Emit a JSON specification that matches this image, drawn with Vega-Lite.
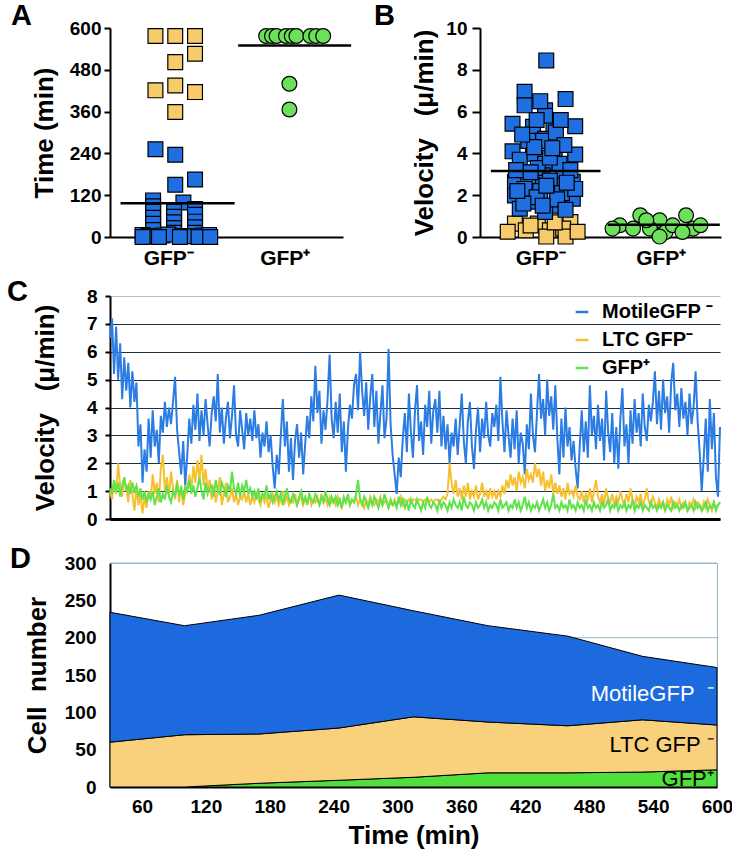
{
"$schema":"https://vega.github.io/schema/vega-lite/v6.json",
"background":"white",
"padding":{"left":7,"top":2,"right":0,"bottom":0},
"config":{
 "view":{"stroke":null},
 "font":"Liberation Sans",
 "axis":{"labelFont":"Liberation Sans","labelFontWeight":"bold","labelFontSize":19,"labelColor":"black","titleFont":"Liberation Sans","titleFontWeight":"bold","titleFontSize":26,"titleColor":"black","domainColor":"black","domainWidth":2,"tickColor":"black","tickWidth":2,"tickSize":6,"grid":false,"labelFlush":false,"labelOverlap":false},
 "title":{"font":"Liberation Sans","fontSize":29,"fontWeight":"bold","anchor":"start","frame":"group","offset":0,"baseline":"alphabetic","color":"black"}
},
"datasets":{
 "aPts":[
  {"cls":"ltc","jx":0.39,"time":577},{"cls":"ltc","jx":0.56,"time":577},{"cls":"ltc","jx":0.73,"time":577},{"cls":"ltc","jx":0.73,"time":526},{"cls":"ltc","jx":0.56,"time":502},{"cls":"ltc","jx":0.39,"time":421},{"cls":"ltc","jx":0.56,"time":435},{"cls":"ltc","jx":0.73,"time":416},{"cls":"ltc","jx":0.56,"time":359},
  {"cls":"mot","jx":0.39,"time":252},{"cls":"mot","jx":0.56,"time":236},{"cls":"mot","jx":0.56,"time":150},{"cls":"mot","jx":0.73,"time":165},{"cls":"mot","jx":0.37,"time":105},{"cls":"mot","jx":0.63,"time":99},{"cls":"mot","jx":0.37,"time":88},{"cls":"mot","jx":0.37,"time":72},{"cls":"mot","jx":0.37,"time":55},{"cls":"mot","jx":0.37,"time":38},{"cls":"mot","jx":0.37,"time":20},{"cls":"mot","jx":0.55,"time":72},{"cls":"mot","jx":0.55,"time":58},{"cls":"mot","jx":0.55,"time":42},{"cls":"mot","jx":0.55,"time":26},{"cls":"mot","jx":0.55,"time":12},{"cls":"mot","jx":0.73,"time":80},{"cls":"mot","jx":0.73,"time":64},{"cls":"mot","jx":0.73,"time":44},{"cls":"mot","jx":0.73,"time":28},{"cls":"mot","jx":0.73,"time":12},{"cls":"mot","jx":0.28,"time":6},{"cls":"mot","jx":0.33,"time":3},{"cls":"mot","jx":0.45,"time":4},{"cls":"mot","jx":0.5,"time":7},{"cls":"mot","jx":0.62,"time":3},{"cls":"mot","jx":0.67,"time":2},{"cls":"mot","jx":0.8,"time":4},{"cls":"mot","jx":0.85,"time":6},{"cls":"mot","jx":0.42,"time":0},{"cls":"mot","jx":0.6,"time":0},{"cls":"mot","jx":0.76,"time":0},{"cls":"mot","jx":0.28,"time":0},{"cls":"mot","jx":0.86,"time":0},
  {"cls":"pos","jx":1.34,"time":577},{"cls":"pos","jx":1.39,"time":577},{"cls":"pos","jx":1.43,"time":577},{"cls":"pos","jx":1.51,"time":577},{"cls":"pos","jx":1.56,"time":577},{"cls":"pos","jx":1.6,"time":577},{"cls":"pos","jx":1.72,"time":577},{"cls":"pos","jx":1.77,"time":577},{"cls":"pos","jx":1.83,"time":577},{"cls":"pos","jx":1.54,"time":440},{"cls":"pos","jx":1.54,"time":366}
 ],
 "aMeans":[{"from":0.09,"to":1.07,"v":97},{"from":1.1,"to":2.07,"v":550}],
 "bPts":[
  {"cls":"ltc","jx":0.29,"vel":0.64},{"cls":"ltc","jx":0.48,"vel":0.64},{"cls":"ltc","jx":0.75,"vel":0.72},{"cls":"ltc","jx":0.38,"vel":0.32},{"cls":"ltc","jx":0.58,"vel":0.32},{"cls":"ltc","jx":0.69,"vel":0.4},{"cls":"ltc","jx":0.55,"vel":0.02},{"cls":"ltc","jx":0.71,"vel":0.02},{"cls":"ltc","jx":0.23,"vel":0.25},{"cls":"ltc","jx":0.81,"vel":0.25},{"cls":"ltc","jx":0.62,"vel":0.7},{"cls":"ltc","jx":0.42,"vel":0.55},
  {"cls":"mot","jx":0.55,"vel":8.45},{"cls":"mot","jx":0.37,"vel":6.95},{"cls":"mot","jx":0.37,"vel":6.3},{"cls":"mot","jx":0.71,"vel":6.6},{"cls":"mot","jx":0.54,"vel":6.06},{"cls":"mot","jx":0.27,"vel":5.42},{"cls":"mot","jx":0.44,"vel":5.27},{"cls":"mot","jx":0.61,"vel":5.27},{"cls":"mot","jx":0.79,"vel":5.3},{"cls":"mot","jx":0.54,"vel":5.8},{"cls":"mot","jx":0.54,"vel":4.7},{"cls":"mot","jx":0.52,"vel":4.6},{"cls":"mot","jx":0.27,"vel":4.1},{"cls":"mot","jx":0.44,"vel":3.98},{"cls":"mot","jx":0.62,"vel":3.98},{"cls":"mot","jx":0.79,"vel":3.95},{"cls":"mot","jx":0.54,"vel":3.5},{"cls":"mot","jx":0.36,"vel":3.03},{"cls":"mot","jx":0.52,"vel":2.95},{"cls":"mot","jx":0.69,"vel":2.95},{"cls":"mot","jx":0.29,"vel":2.64},{"cls":"mot","jx":0.77,"vel":2.64},{"cls":"mot","jx":0.44,"vel":2.47},{"cls":"mot","jx":0.61,"vel":2.47},{"cls":"mot","jx":0.29,"vel":1.99},{"cls":"mot","jx":0.44,"vel":1.69},{"cls":"mot","jx":0.61,"vel":1.5},{"cls":"mot","jx":0.77,"vel":1.83},{"cls":"mot","jx":0.54,"vel":1.2},{"cls":"mot","jx":0.33,"vel":1.35},
  {"cls":"mot","jx":0.47,"vel":5.6},{"cls":"mot","jx":0.63,"vel":5.0},{"cls":"mot","jx":0.4,"vel":4.6},{"cls":"mot","jx":0.7,"vel":4.4},{"cls":"mot","jx":0.33,"vel":3.7},{"cls":"mot","jx":0.48,"vel":3.3},{"cls":"mot","jx":0.66,"vel":3.5},{"cls":"mot","jx":0.75,"vel":3.2},{"cls":"mot","jx":0.4,"vel":2.8},{"cls":"mot","jx":0.58,"vel":2.7},{"cls":"mot","jx":0.3,"vel":3.2},{"cls":"mot","jx":0.5,"vel":2.2},{"cls":"mot","jx":0.68,"vel":2.1},{"cls":"mot","jx":0.37,"vel":2.3},{"cls":"mot","jx":0.79,"vel":2.3},{"cls":"mot","jx":0.47,"vel":1.9},{"cls":"mot","jx":0.64,"vel":1.8},{"cls":"mot","jx":0.36,"vel":1.6},{"cls":"mot","jx":0.52,"vel":1.5},{"cls":"mot","jx":0.71,"vel":1.3},{"cls":"mot","jx":0.58,"vel":3.8},{"cls":"mot","jx":0.45,"vel":4.3},{"cls":"mot","jx":0.35,"vel":4.9},{"cls":"mot","jx":0.67,"vel":5.6},{"cls":"mot","jx":0.5,"vel":6.5},{"cls":"mot","jx":0.6,"vel":4.25},{"cls":"mot","jx":0.42,"vel":3.1},{"cls":"mot","jx":0.72,"vel":2.6},{"cls":"mot","jx":0.55,"vel":2.45},{"cls":"mot","jx":0.31,"vel":2.2},
  {"cls":"pos","jx":1.33,"vel":1.04},{"cls":"pos","jx":1.49,"vel":0.8},{"cls":"pos","jx":1.71,"vel":1.04},{"cls":"pos","jx":1.16,"vel":0.56},{"cls":"pos","jx":1.27,"vel":0.4},{"cls":"pos","jx":1.41,"vel":0.4},{"cls":"pos","jx":1.54,"vel":0.24},{"cls":"pos","jx":1.6,"vel":0.56},{"cls":"pos","jx":1.77,"vel":0.4},{"cls":"pos","jx":1.83,"vel":0.56},{"cls":"pos","jx":1.49,"vel":0.02},{"cls":"pos","jx":1.1,"vel":0.4},{"cls":"pos","jx":1.38,"vel":0.8},{"cls":"pos","jx":1.68,"vel":0.24}
 ],
 "bMeans":[{"from":0.09,"to":1.0,"v":3.16},{"from":1.06,"to":1.99,"v":0.59}],
 "velo":[
{"t":0,"m":6.5,"l":1.0,"g":1.1},{"t":2,"m":7.2,"l":0.7,"g":0.9},{"t":4,"m":5.2,"l":1.3,"g":1.4},{"t":6,"m":6.9,"l":0.9,"g":1.0},{"t":8,"m":5.0,"l":2.0,"g":1.3},{"t":10,"m":6.3,"l":1.2,"g":0.8},{"t":12,"m":4.3,"l":0.8,"g":1.2},{"t":14,"m":5.8,"l":1.5,"g":1.5},{"t":16,"m":4.6,"l":1.1,"g":1.0},{"t":18,"m":5.6,"l":0.6,"g":1.2},
{"t":20,"m":4.0,"l":1.4,"g":0.9},{"t":22,"m":5.3,"l":0.9,"g":1.3},{"t":24,"m":4.2,"l":0.3,"g":1.0},{"t":26,"m":4.9,"l":1.1,"g":1.2},{"t":28,"m":2.6,"l":0.5,"g":0.8},{"t":30,"m":3.4,"l":0.9,"g":1.1},{"t":32,"m":1.3,"l":0.2,"g":0.7},{"t":34,"m":2.5,"l":0.8,"g":1.0},{"t":36,"m":1.7,"l":0.4,"g":0.6},{"t":38,"m":3.6,"l":1.0,"g":0.9},
{"t":40,"m":2.2,"l":0.7,"g":0.7},{"t":42,"m":3.9,"l":1.6,"g":1.0},{"t":44,"m":2.6,"l":0.9,"g":0.5},{"t":46,"m":3.2,"l":1.3,"g":0.8},{"t":48,"m":2.0,"l":0.6,"g":1.1},{"t":50,"m":3.7,"l":1.8,"g":0.6},{"t":52,"m":3.1,"l":2.3,"g":0.9},{"t":54,"m":4.2,"l":1.0,"g":0.7},{"t":56,"m":3.3,"l":1.5,"g":1.2},{"t":58,"m":4.0,"l":0.8,"g":0.8},
{"t":60,"m":3.4,"l":1.7,"g":0.6},{"t":62,"m":4.2,"l":1.1,"g":1.0},{"t":64,"m":5.1,"l":0.7,"g":0.8},{"t":66,"m":3.2,"l":1.4,"g":1.3},{"t":68,"m":2.4,"l":0.6,"g":0.9},{"t":70,"m":1.6,"l":1.2,"g":1.1},{"t":72,"m":2.8,"l":0.5,"g":0.7},{"t":74,"m":1.2,"l":0.9,"g":1.2},{"t":76,"m":2.3,"l":1.1,"g":1.0},{"t":78,"m":3.6,"l":1.6,"g":1.4},
{"t":80,"m":2.7,"l":1.0,"g":0.9},{"t":82,"m":4.1,"l":1.9,"g":1.2},{"t":84,"m":3.2,"l":1.3,"g":0.8},{"t":86,"m":4.5,"l":2.1,"g":1.1},{"t":88,"m":2.8,"l":1.4,"g":1.5},{"t":90,"m":3.9,"l":2.3,"g":1.0},{"t":92,"m":3.0,"l":1.2,"g":0.7},{"t":94,"m":4.3,"l":1.8,"g":1.3},{"t":96,"m":3.4,"l":1.0,"g":0.9},{"t":98,"m":2.6,"l":1.4,"g":1.1},
{"t":100,"m":3.8,"l":0.7,"g":1.2},{"t":102,"m":4.4,"l":1.2,"g":0.8},{"t":104,"m":3.5,"l":0.6,"g":1.4},{"t":106,"m":5.2,"l":1.0,"g":1.0},{"t":108,"m":3.1,"l":1.5,"g":0.9},{"t":110,"m":4.0,"l":0.5,"g":1.3},{"t":112,"m":2.7,"l":0.9,"g":1.1},{"t":114,"m":3.6,"l":1.3,"g":0.8},{"t":116,"m":4.2,"l":0.6,"g":1.2},{"t":118,"m":2.9,"l":0.8,"g":1.0},
{"t":120,"m":3.7,"l":1.1,"g":1.7},{"t":122,"m":4.8,"l":0.6,"g":1.1},{"t":124,"m":3.0,"l":0.9,"g":0.9},{"t":126,"m":2.6,"l":0.5,"g":1.3},{"t":128,"m":3.9,"l":0.8,"g":0.8},{"t":130,"m":3.2,"l":0.7,"g":1.2},{"t":132,"m":2.5,"l":1.0,"g":1.0},{"t":134,"m":3.8,"l":0.6,"g":1.4},{"t":136,"m":3.0,"l":0.9,"g":0.9},{"t":138,"m":3.6,"l":0.5,"g":1.1},
{"t":140,"m":2.8,"l":0.8,"g":0.8},{"t":142,"m":3.9,"l":0.6,"g":1.0},{"t":144,"m":2.9,"l":1.0,"g":0.7},{"t":146,"m":3.4,"l":0.7,"g":1.1},{"t":148,"m":2.2,"l":0.5,"g":0.6},{"t":150,"m":3.1,"l":0.9,"g":0.9},{"t":152,"m":2.6,"l":0.6,"g":0.8},{"t":154,"m":3.5,"l":0.8,"g":1.2},{"t":156,"m":2.4,"l":0.4,"g":0.7},{"t":158,"m":3.0,"l":0.7,"g":0.9},
{"t":160,"m":1.9,"l":0.9,"g":0.6},{"t":162,"m":1.1,"l":0.6,"g":0.8},{"t":164,"m":2.3,"l":0.8,"g":1.0},{"t":166,"m":1.6,"l":0.5,"g":0.7},{"t":168,"m":3.0,"l":0.7,"g":0.9},{"t":170,"m":4.3,"l":1.0,"g":0.5},{"t":172,"m":2.6,"l":0.6,"g":0.8},{"t":174,"m":3.5,"l":0.8,"g":1.1},{"t":176,"m":1.7,"l":0.5,"g":0.7},{"t":178,"m":2.9,"l":0.7,"g":0.6},
{"t":180,"m":1.4,"l":0.6,"g":0.9},{"t":182,"m":2.8,"l":0.9,"g":0.7},{"t":184,"m":3.4,"l":0.5,"g":0.5},{"t":186,"m":2.2,"l":0.7,"g":0.8},{"t":188,"m":3.1,"l":0.8,"g":1.0},{"t":190,"m":1.6,"l":0.5,"g":0.6},{"t":192,"m":2.7,"l":0.7,"g":0.8},{"t":194,"m":3.7,"l":0.6,"g":0.5},{"t":196,"m":2.9,"l":0.9,"g":0.9},{"t":198,"m":4.4,"l":0.5,"g":0.7},
{"t":200,"m":3.5,"l":0.7,"g":0.6},{"t":202,"m":5.5,"l":0.6,"g":0.9},{"t":204,"m":3.8,"l":0.8,"g":0.7},{"t":206,"m":4.6,"l":0.5,"g":0.5},{"t":208,"m":2.7,"l":0.9,"g":0.8},{"t":210,"m":3.9,"l":0.6,"g":0.6},{"t":212,"m":3.2,"l":0.7,"g":1.0},{"t":214,"m":4.3,"l":0.5,"g":0.7},{"t":216,"m":5.9,"l":0.8,"g":0.5},{"t":218,"m":3.6,"l":0.6,"g":0.8},
{"t":220,"m":2.9,"l":0.7,"g":0.6},{"t":222,"m":4.2,"l":0.5,"g":0.8},{"t":224,"m":3.1,"l":0.8,"g":0.5},{"t":226,"m":4.5,"l":0.6,"g":0.7},{"t":228,"m":2.4,"l":0.4,"g":0.4},{"t":230,"m":3.5,"l":0.7,"g":0.8},{"t":232,"m":1.7,"l":0.6,"g":0.6},{"t":234,"m":3.2,"l":0.8,"g":0.9},{"t":236,"m":4.1,"l":0.5,"g":0.5},{"t":238,"m":3.6,"l":0.7,"g":0.7},
{"t":240,"m":4.8,"l":0.6,"g":0.6},{"t":242,"m":5.2,"l":0.8,"g":0.9},{"t":244,"m":3.9,"l":0.5,"g":1.4},{"t":246,"m":6.0,"l":0.7,"g":0.7},{"t":248,"m":4.6,"l":0.6,"g":0.5},{"t":250,"m":3.7,"l":0.4,"g":0.8},{"t":252,"m":4.9,"l":0.7,"g":0.6},{"t":254,"m":3.2,"l":0.5,"g":0.4},{"t":256,"m":4.4,"l":0.8,"g":0.7},{"t":258,"m":5.2,"l":0.6,"g":0.5},
{"t":260,"m":3.3,"l":0.5,"g":0.8},{"t":262,"m":4.6,"l":0.7,"g":0.6},{"t":264,"m":2.7,"l":0.6,"g":0.4},{"t":266,"m":3.8,"l":0.8,"g":0.7},{"t":268,"m":4.8,"l":0.5,"g":0.5},{"t":270,"m":2.9,"l":0.6,"g":0.9},{"t":272,"m":3.6,"l":0.7,"g":0.6},{"t":274,"m":6.1,"l":0.4,"g":0.4},{"t":276,"m":3.4,"l":0.6,"g":0.7},{"t":278,"m":2.3,"l":0.5,"g":0.5},
{"t":280,"m":1.6,"l":0.7,"g":0.6},{"t":282,"m":0.9,"l":0.5,"g":0.4},{"t":284,"m":2.2,"l":0.6,"g":0.8},{"t":286,"m":1.5,"l":0.8,"g":0.5},{"t":288,"m":2.9,"l":0.5,"g":0.7},{"t":290,"m":3.8,"l":0.7,"g":0.4},{"t":292,"m":2.4,"l":0.6,"g":0.6},{"t":294,"m":4.5,"l":0.7,"g":0.3},{"t":296,"m":3.1,"l":0.6,"g":0.7},{"t":298,"m":2.2,"l":0.7,"g":0.5},
{"t":300,"m":3.9,"l":0.7,"g":0.4},{"t":302,"m":4.8,"l":0.6,"g":0.7},{"t":304,"m":2.8,"l":0.7,"g":0.5},{"t":306,"m":3.5,"l":0.7,"g":0.3},{"t":308,"m":2.3,"l":0.6,"g":0.6},{"t":310,"m":4.1,"l":0.7,"g":0.4},{"t":312,"m":3.3,"l":0.7,"g":0.8},{"t":314,"m":4.6,"l":0.6,"g":0.5},{"t":316,"m":2.7,"l":0.7,"g":0.4},{"t":318,"m":3.9,"l":0.6,"g":0.6},
{"t":320,"m":4.3,"l":0.7,"g":0.5},{"t":322,"m":3.1,"l":0.7,"g":0.3},{"t":324,"m":4.6,"l":0.6,"g":0.7},{"t":326,"m":2.6,"l":0.7,"g":0.4},{"t":328,"m":3.7,"l":0.8,"g":0.6},{"t":330,"m":2.5,"l":0.7,"g":0.5},{"t":332,"m":3.4,"l":0.9,"g":0.3},{"t":334,"m":2.0,"l":2.0,"g":0.6},{"t":336,"m":3.1,"l":1.3,"g":0.4},{"t":338,"m":2.6,"l":0.9,"g":0.7},
{"t":340,"m":3.6,"l":1.4,"g":0.5},{"t":342,"m":2.3,"l":0.8,"g":0.4},{"t":344,"m":3.4,"l":1.1,"g":0.6},{"t":346,"m":4.5,"l":0.7,"g":0.3},{"t":348,"m":2.8,"l":1.2,"g":0.8},{"t":350,"m":2.0,"l":0.8,"g":0.5},{"t":352,"m":3.5,"l":1.3,"g":0.4},{"t":354,"m":4.2,"l":0.7,"g":0.6},{"t":356,"m":2.6,"l":1.0,"g":0.5},{"t":358,"m":1.8,"l":0.8,"g":0.3},
{"t":360,"m":3.2,"l":1.2,"g":0.6},{"t":362,"m":4.0,"l":0.7,"g":0.4},{"t":364,"m":2.4,"l":0.9,"g":0.5},{"t":366,"m":3.6,"l":1.3,"g":0.7},{"t":368,"m":2.9,"l":0.8,"g":0.4},{"t":370,"m":4.2,"l":1.0,"g":0.6},{"t":372,"m":3.0,"l":0.7,"g":0.3},{"t":374,"m":2.6,"l":1.1,"g":0.5},{"t":376,"m":3.8,"l":0.8,"g":0.4},{"t":378,"m":3.3,"l":1.0,"g":0.6},
{"t":380,"m":4.1,"l":0.7,"g":0.5},{"t":382,"m":2.8,"l":1.0,"g":0.3},{"t":384,"m":5.1,"l":0.8,"g":0.7},{"t":386,"m":3.5,"l":1.2,"g":0.4},{"t":388,"m":2.4,"l":0.9,"g":0.5},{"t":390,"m":3.9,"l":1.4,"g":0.6},{"t":392,"m":3.0,"l":1.1,"g":0.3},{"t":394,"m":2.2,"l":1.6,"g":0.5},{"t":396,"m":3.6,"l":1.2,"g":0.4},{"t":398,"m":2.5,"l":1.5,"g":0.7},
{"t":400,"m":3.9,"l":1.0,"g":0.4},{"t":402,"m":2.0,"l":1.7,"g":0.6},{"t":404,"m":3.1,"l":1.3,"g":0.3},{"t":406,"m":2.7,"l":1.5,"g":0.5},{"t":408,"m":1.6,"l":1.1,"g":0.8},{"t":410,"m":3.4,"l":1.8,"g":0.4},{"t":412,"m":2.5,"l":1.4,"g":0.6},{"t":414,"m":4.5,"l":1.6,"g":0.3},{"t":416,"m":3.0,"l":1.3,"g":0.5},{"t":418,"m":2.4,"l":2.0,"g":0.4},
{"t":420,"m":3.8,"l":1.5,"g":0.6},{"t":422,"m":5.2,"l":1.8,"g":0.3},{"t":424,"m":3.6,"l":1.2,"g":0.5},{"t":426,"m":4.3,"l":1.7,"g":0.7},{"t":428,"m":3.0,"l":1.0,"g":0.4},{"t":430,"m":5.0,"l":1.4,"g":0.6},{"t":432,"m":3.7,"l":1.1,"g":0.3},{"t":434,"m":4.4,"l":1.6,"g":0.5},{"t":436,"m":3.2,"l":0.9,"g":0.9},{"t":438,"m":4.8,"l":1.3,"g":0.4},
{"t":440,"m":2.9,"l":0.9,"g":0.5},{"t":442,"m":1.6,"l":1.2,"g":0.3},{"t":444,"m":3.6,"l":0.8,"g":0.6},{"t":446,"m":2.2,"l":1.1,"g":0.4},{"t":448,"m":4.0,"l":0.7,"g":0.5},{"t":450,"m":2.6,"l":1.3,"g":0.3},{"t":452,"m":3.3,"l":0.9,"g":0.7},{"t":454,"m":2.1,"l":1.0,"g":0.4},{"t":456,"m":2.8,"l":0.8,"g":0.5},{"t":458,"m":1.8,"l":1.2,"g":0.3},
{"t":460,"m":1.1,"l":0.8,"g":0.6},{"t":462,"m":2.6,"l":0.7,"g":0.4},{"t":464,"m":3.9,"l":1.0,"g":0.5},{"t":466,"m":2.4,"l":0.6,"g":0.3},{"t":468,"m":3.5,"l":0.9,"g":0.7},{"t":470,"m":2.2,"l":0.7,"g":0.4},{"t":472,"m":4.8,"l":1.1,"g":0.5},{"t":474,"m":3.0,"l":0.6,"g":0.3},{"t":476,"m":3.7,"l":1.0,"g":0.6},{"t":478,"m":2.5,"l":1.4,"g":0.4},
{"t":480,"m":4.1,"l":0.8,"g":0.5},{"t":482,"m":2.8,"l":0.6,"g":0.3},{"t":484,"m":3.6,"l":0.9,"g":0.6},{"t":486,"m":2.1,"l":0.5,"g":0.4},{"t":488,"m":4.6,"l":1.1,"g":0.5},{"t":490,"m":3.1,"l":0.7,"g":0.7},{"t":492,"m":2.4,"l":0.6,"g":0.3},{"t":494,"m":3.8,"l":0.9,"g":0.5},{"t":496,"m":2.0,"l":0.5,"g":0.4},{"t":498,"m":3.3,"l":0.8,"g":0.6},
{"t":500,"m":1.8,"l":0.6,"g":0.3},{"t":502,"m":3.6,"l":1.0,"g":0.5},{"t":504,"m":4.7,"l":0.7,"g":0.4},{"t":506,"m":2.6,"l":0.5,"g":0.6},{"t":508,"m":3.4,"l":0.9,"g":0.3},{"t":510,"m":2.0,"l":0.6,"g":0.5},{"t":512,"m":3.9,"l":1.1,"g":0.4},{"t":514,"m":2.7,"l":0.7,"g":0.7},{"t":516,"m":4.3,"l":0.5,"g":0.3},{"t":518,"m":3.1,"l":0.8,"g":0.5},
{"t":520,"m":3.8,"l":0.6,"g":0.4},{"t":522,"m":2.6,"l":0.9,"g":0.6},{"t":524,"m":4.5,"l":0.5,"g":0.3},{"t":526,"m":3.3,"l":0.7,"g":0.5},{"t":528,"m":2.8,"l":1.1,"g":0.4},{"t":530,"m":4.1,"l":0.6,"g":0.3},{"t":532,"m":3.5,"l":0.5,"g":0.6},{"t":534,"m":4.2,"l":0.8,"g":0.4},{"t":536,"m":5.3,"l":0.6,"g":0.5},{"t":538,"m":3.4,"l":0.4,"g":0.3},
{"t":540,"m":4.6,"l":0.7,"g":0.5},{"t":542,"m":3.2,"l":0.5,"g":0.4},{"t":544,"m":5.0,"l":0.6,"g":0.6},{"t":546,"m":3.8,"l":0.3,"g":0.3},{"t":548,"m":4.4,"l":0.7,"g":0.5},{"t":550,"m":3.1,"l":0.5,"g":0.4},{"t":552,"m":4.9,"l":0.8,"g":0.3},{"t":554,"m":5.6,"l":0.4,"g":0.6},{"t":556,"m":3.9,"l":0.6,"g":0.4},{"t":558,"m":4.5,"l":0.5,"g":0.5},
{"t":560,"m":3.3,"l":0.7,"g":0.3},{"t":562,"m":4.7,"l":0.4,"g":0.5},{"t":564,"m":3.6,"l":0.6,"g":0.4},{"t":566,"m":4.2,"l":0.5,"g":0.6},{"t":568,"m":3.0,"l":0.3,"g":0.3},{"t":570,"m":4.5,"l":0.6,"g":0.4},{"t":572,"m":3.4,"l":0.5,"g":0.5},{"t":574,"m":4.0,"l":0.7,"g":0.3},{"t":576,"m":5.3,"l":0.4,"g":0.6},{"t":578,"m":3.5,"l":0.6,"g":0.4},
{"t":580,"m":2.4,"l":0.5,"g":0.5},{"t":582,"m":1.0,"l":0.3,"g":0.3},{"t":584,"m":2.2,"l":0.6,"g":0.4},{"t":586,"m":3.6,"l":0.4,"g":0.6},{"t":588,"m":1.7,"l":0.7,"g":0.3},{"t":590,"m":4.3,"l":0.5,"g":0.5},{"t":592,"m":2.5,"l":0.3,"g":0.4},{"t":594,"m":3.8,"l":0.6,"g":0.6},{"t":596,"m":1.5,"l":0.4,"g":0.3},{"t":598,"m":0.8,"l":0.5,"g":0.5},
{"t":600,"m":3.3,"l":0.6,"g":0.6}
 ],
 "cells":[
  {"t":30,"gfpPos":0,"ltc":60,"motile":174},{"t":100,"gfpPos":0,"ltc":70,"motile":146},{"t":170,"gfpPos":5,"ltc":66,"motile":159},{"t":245,"gfpPos":9,"ltc":70,"motile":178},{"t":315,"gfpPos":13,"ltc":81,"motile":142},{"t":385,"gfpPos":19,"ltc":68,"motile":129},{"t":460,"gfpPos":19,"ltc":63,"motile":120},{"t":530,"gfpPos":20,"ltc":70,"motile":85},{"t":600,"gfpPos":23,"ltc":60,"motile":77}
 ],
 "dGrid":[{"n":200},{"n":300}],
 "dLabels":[
  {"t":597,"n":125,"label":"MotileGFP\u00a0\u00a0⁻"},{"t":597,"n":56,"label":"LTC GFP\u00a0⁻"},{"t":597,"n":11,"label":"GFP⁺"}
 ]
},
"spacing":10,
"resolve":{"scale":{"x":"independent","y":"independent","color":"independent","shape":"independent"}},
"vconcat":[
 {"hconcat":[
  {"title":{"text":"A","dx":-99,"dy":16},
   "width":233,"height":209,
   "layer":[
    {"data":{"name":"aPts"},
     "mark":{"type":"point","filled":true,"stroke":"black","strokeWidth":1.2,"opacity":1,"size":220},
     "encoding":{
      "x":{"field":"jx","type":"quantitative","title":null,"scale":{"domain":[0,2],"nice":false},"axis":{"values":[0.5,1.5],"labelExpr":"datum.value < 1 ? 'GFP⁻' : 'GFP⁺'","ticks":false,"labelFontSize":21,"labelPadding":10}},
      "y":{"field":"time","type":"quantitative","title":"Time (min)","scale":{"domain":[0,600],"nice":false},"axis":{"values":[0,120,240,360,480,600],"titlePadding":12,"labelPadding":3}},
      "shape":{"field":"cls","type":"nominal","scale":{"domain":["mot","ltc","pos"],"range":["square","square","circle"]},"legend":null},
      "color":{"field":"cls","type":"nominal","scale":{"domain":["mot","ltc","pos"],"range":["#1f6fe0","#f8cb6a","#6ce05a"]},"legend":null}
     }},
    {"data":{"name":"aMeans"},"mark":{"type":"rule","color":"black","strokeWidth":2.5},
     "encoding":{"x":{"field":"from","type":"quantitative","title":null},"x2":{"field":"to"},"y":{"field":"v","type":"quantitative","title":"Time (min)"}}}
   ]},
  {"title":{"text":"B","dx":-106,"dy":16},
   "width":241,"height":209,
   "layer":[
    {"data":{"name":"bPts"},
     "mark":{"type":"point","filled":true,"stroke":"black","strokeWidth":1.2,"opacity":1,"size":220},
     "encoding":{
      "x":{"field":"jx","type":"quantitative","title":null,"scale":{"domain":[0,2],"nice":false},"axis":{"values":[0.5,1.5],"labelExpr":"datum.value < 1 ? 'GFP⁻' : 'GFP⁺'","ticks":false,"labelFontSize":21,"labelPadding":10}},
      "y":{"field":"vel","type":"quantitative","title":"Velocity\u00a0\u00a0\u00a0(μ/min)","scale":{"domain":[0,10],"nice":false},"axis":{"values":[0,2,4,6,8,10],"titlePadding":8,"labelPadding":5,"tickSize":8}},
      "shape":{"field":"cls","type":"nominal","scale":{"domain":["mot","ltc","pos"],"range":["square","square","circle"]},"legend":null},
      "color":{"field":"cls","type":"nominal","scale":{"domain":["mot","ltc","pos"],"range":["#1f6fe0","#f8cb6a","#6ce05a"]},"legend":null}
     }},
    {"data":{"name":"bMeans"},"mark":{"type":"rule","color":"black","strokeWidth":2.5},
     "encoding":{"x":{"field":"from","type":"quantitative","title":null},"x2":{"field":"to"},"y":{"field":"v","type":"quantitative","title":"Velocity\u00a0\u00a0\u00a0(μ/min)"}}}
   ]}
 ],
 "spacing":21,
 "resolve":{"scale":{"x":"independent","y":"independent","color":"independent","shape":"independent"}}},
 {"vconcat":[
  {"title":{"text":"C","dx":-103,"dy":24},
   "width":610,"height":223,
   "data":{"name":"velo"},
   "transform":[{"fold":["m","l","g"],"as":["series","v"]}],
   "mark":{"type":"line","strokeWidth":2},
   "encoding":{
    "x":{"field":"t","type":"quantitative","title":null,"scale":{"domain":[0,600],"nice":false},"axis":{"labels":false,"ticks":false,"domainWidth":3}},
    "y":{"field":"v","type":"quantitative","title":"Velocity\u00a0\u00a0\u00a0(μ/min)","scale":{"domain":[0,8],"nice":false},"axis":{"values":[0,1,2,3,4,5,6,7,8],"grid":true,"gridColor":{"condition":{"test":"datum.value == 8","value":"#a9c4d0"},"value":"#1c2f3f"},"gridWidth":1.2,"titlePadding":28,"labelPadding":8,"tickSize":5}},
    "color":{"field":"series","type":"nominal","scale":{"domain":["m","l","g"],"range":["#2b7ce3","#f6c030","#5fe24a"]},
     "legend":{"orient":"top-right","title":null,"offset":4,"labelExpr":"datum.label == 'm' ? 'MotileGFP ⁻' : datum.label == 'l' ? 'LTC GFP⁻' : 'GFP⁺'","labelFontSize":20,"labelFontWeight":"bold","labelFont":"Liberation Sans","labelColor":"black","symbolType":"stroke","symbolStrokeWidth":2.5,"symbolSize":160,"rowPadding":8,"labelOffset":10,"padding":2}}
   }},
  {"title":{"text":"D","dx":-100,"dy":24},
   "width":607,"height":224,
   "view":{"stroke":"#9ab6c4","strokeWidth":1},
   "encoding":{
    "y":{"type":"quantitative","title":"Cell\u00a0\u00a0number","scale":{"domain":[0,300],"nice":false},"axis":{"values":[0,50,100,150,200,250,300],"tickCount":7,"ticks":false,"labelPadding":14,"titlePadding":14,"labelOverlap":false}}
   },
   "layer":[
    {"data":{"name":"dGrid"},
     "mark":{"type":"rule","color":"#9ab6c4","strokeWidth":1},
     "encoding":{"y":{"field":"n","type":"quantitative","title":"Cell\u00a0\u00a0number","axis":{"values":[0,50,100,150,200,250,300],"tickCount":7,"ticks":false,"labelPadding":14,"titlePadding":14,"labelOverlap":false}}}},
    {"data":{"name":"cells"},
     "transform":[{"fold":["gfpPos","ltc","motile"],"as":["cls","n"]},{"calculate":"indexof(['gfpPos','ltc','motile'], datum.cls)","as":"k"}],
     "mark":{"type":"area","stroke":"black","strokeWidth":1,"opacity":1},
     "encoding":{
      "x":{"field":"t","type":"quantitative","title":"Time (min)","scale":{"domain":[30,600],"nice":false},"axis":{"values":[60,120,180,240,300,360,420,480,540,600],"ticks":false,"labelPadding":10,"titlePadding":6}},
      "y":{"field":"n","type":"quantitative","stack":"zero","title":"Cell\u00a0\u00a0number","axis":{"values":[0,50,100,150,200,250,300],"tickCount":7,"ticks":false,"labelPadding":14,"titlePadding":14,"labelOverlap":false}},
      "color":{"field":"cls","type":"nominal","scale":{"domain":["gfpPos","ltc","motile"],"range":["#4fe03c","#f9d07c","#1c6add"]},"legend":null},
      "order":{"field":"k","type":"quantitative"}
     }},
    {"data":{"name":"dLabels"},
     "mark":{"type":"text","align":"right","baseline":"middle","fontSize":22,"font":"Liberation Sans"},
     "encoding":{
      "x":{"field":"t","type":"quantitative","title":"Time (min)"},
      "y":{"field":"n","type":"quantitative","title":"Cell\u00a0\u00a0number","stack":null,"axis":{"values":[0,50,100,150,200,250,300],"tickCount":7,"ticks":false,"labelPadding":14,"titlePadding":14,"labelOverlap":false}},
      "text":{"field":"label"},
      "color":{"condition":{"test":"indexof(datum.label, 'Motile') >= 0","value":"white"},"value":"black"}
     }}
   ]}
 ],
 "spacing":15,
 "resolve":{"scale":{"x":"independent","y":"independent","color":"independent"}}}
]
}
